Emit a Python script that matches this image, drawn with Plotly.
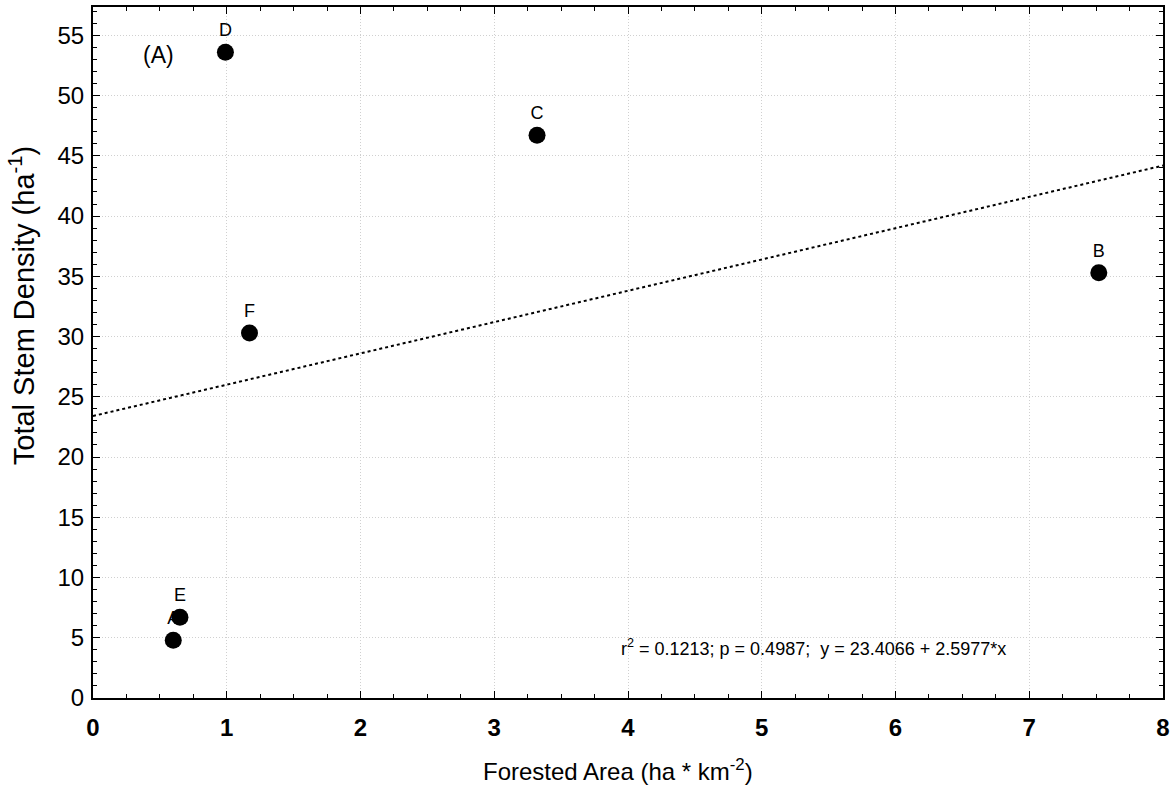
import plotly.graph_objects as go

sites = ["A", "B", "C", "D", "E", "F"]
forested_area = [0.60, 7.52, 3.32, 0.99, 0.65, 1.17]
stem_density = [4.8, 35.3, 46.7, 53.6, 6.7, 30.3]

intercept = 23.4066
slope = 2.5977
fit_x = [0, 8]
fit_y = [intercept + slope * x for x in fit_x]

x_ticks = [0, 1, 2, 3, 4, 5, 6, 7, 8]
y_ticks = [0, 5, 10, 15, 20, 25, 30, 35, 40, 45, 50, 55]

x_title = "Forested Area (ha * km<sup>-2</sup>)"
y_title = "Total Stem Density (ha<sup>-1</sup>)"
stats_text = "r<sup>2</sup> = 0.1213; p = 0.4987;  y = 23.4066 + 2.5977*x"

FONT = "Arial, Liberation Sans, sans-serif"

fig = go.Figure()
fig.add_trace(go.Scatter(
    x=fit_x, y=fit_y, mode="lines",
    line=dict(color="black", width=2, dash="dot"),
    showlegend=False, hoverinfo="skip"))
fig.add_trace(go.Scatter(
    x=forested_area, y=stem_density, mode="markers+text",
    text=sites, textposition="top center",
    textfont=dict(family=FONT, size=18, color="black"),
    marker=dict(color="black", size=17),
    showlegend=False))

fig.add_annotation(x=0.49, y=53.4, text="(A)", showarrow=False,
                   font=dict(family=FONT, size=23, color="black"))
fig.add_annotation(x=3.93, y=4.2, xanchor="left", text=stats_text,
                   showarrow=False, font=dict(family=FONT, size=18, color="black"))

# axis titles
fig.add_annotation(xref="paper", yref="paper", x=0.5, y=0, xshift=-10, yshift=-72,
                   xanchor="center", yanchor="middle", text=x_title, showarrow=False,
                   font=dict(family=FONT, size=24, color="black"))
fig.add_annotation(xref="paper", yref="paper", x=0, y=0.567, xshift=-71,
                   xanchor="center", yanchor="middle", textangle=-90, text=y_title,
                   showarrow=False, font=dict(family=FONT, size=29, color="black"))

axis_common = dict(
    showline=True, linecolor="black", linewidth=2, mirror="allticks",
    ticks="inside", ticklen=7, tickwidth=1, tickcolor="black",
    showgrid=True, gridcolor="#d0d0d0", griddash="1px,2px", gridwidth=1,
    zeroline=False,
)

fig.update_xaxes(
    range=[0, 8], tickvals=x_ticks, ticklabelstandoff=7,
    tickfont=dict(family=FONT, size=24, color="black", weight="bold"),
    minor=dict(dtick=0.25, ticks="inside", ticklen=4, tickcolor="black", showgrid=False),
    **axis_common)
fig.update_yaxes(
    range=[0, 57.35], tickvals=y_ticks, ticklabelstandoff=2,
    tickfont=dict(family=FONT, size=24, color="black"),
    minor=dict(dtick=1, ticks="inside", ticklen=4, tickcolor="black", showgrid=False),
    **axis_common)

fig.update_layout(
    width=1175, height=791,
    margin=dict(l=93, r=12, t=5, b=93),
    paper_bgcolor="white", plot_bgcolor="white",
    font=dict(family=FONT, color="black"),
)

fig.write_html("out.html")
